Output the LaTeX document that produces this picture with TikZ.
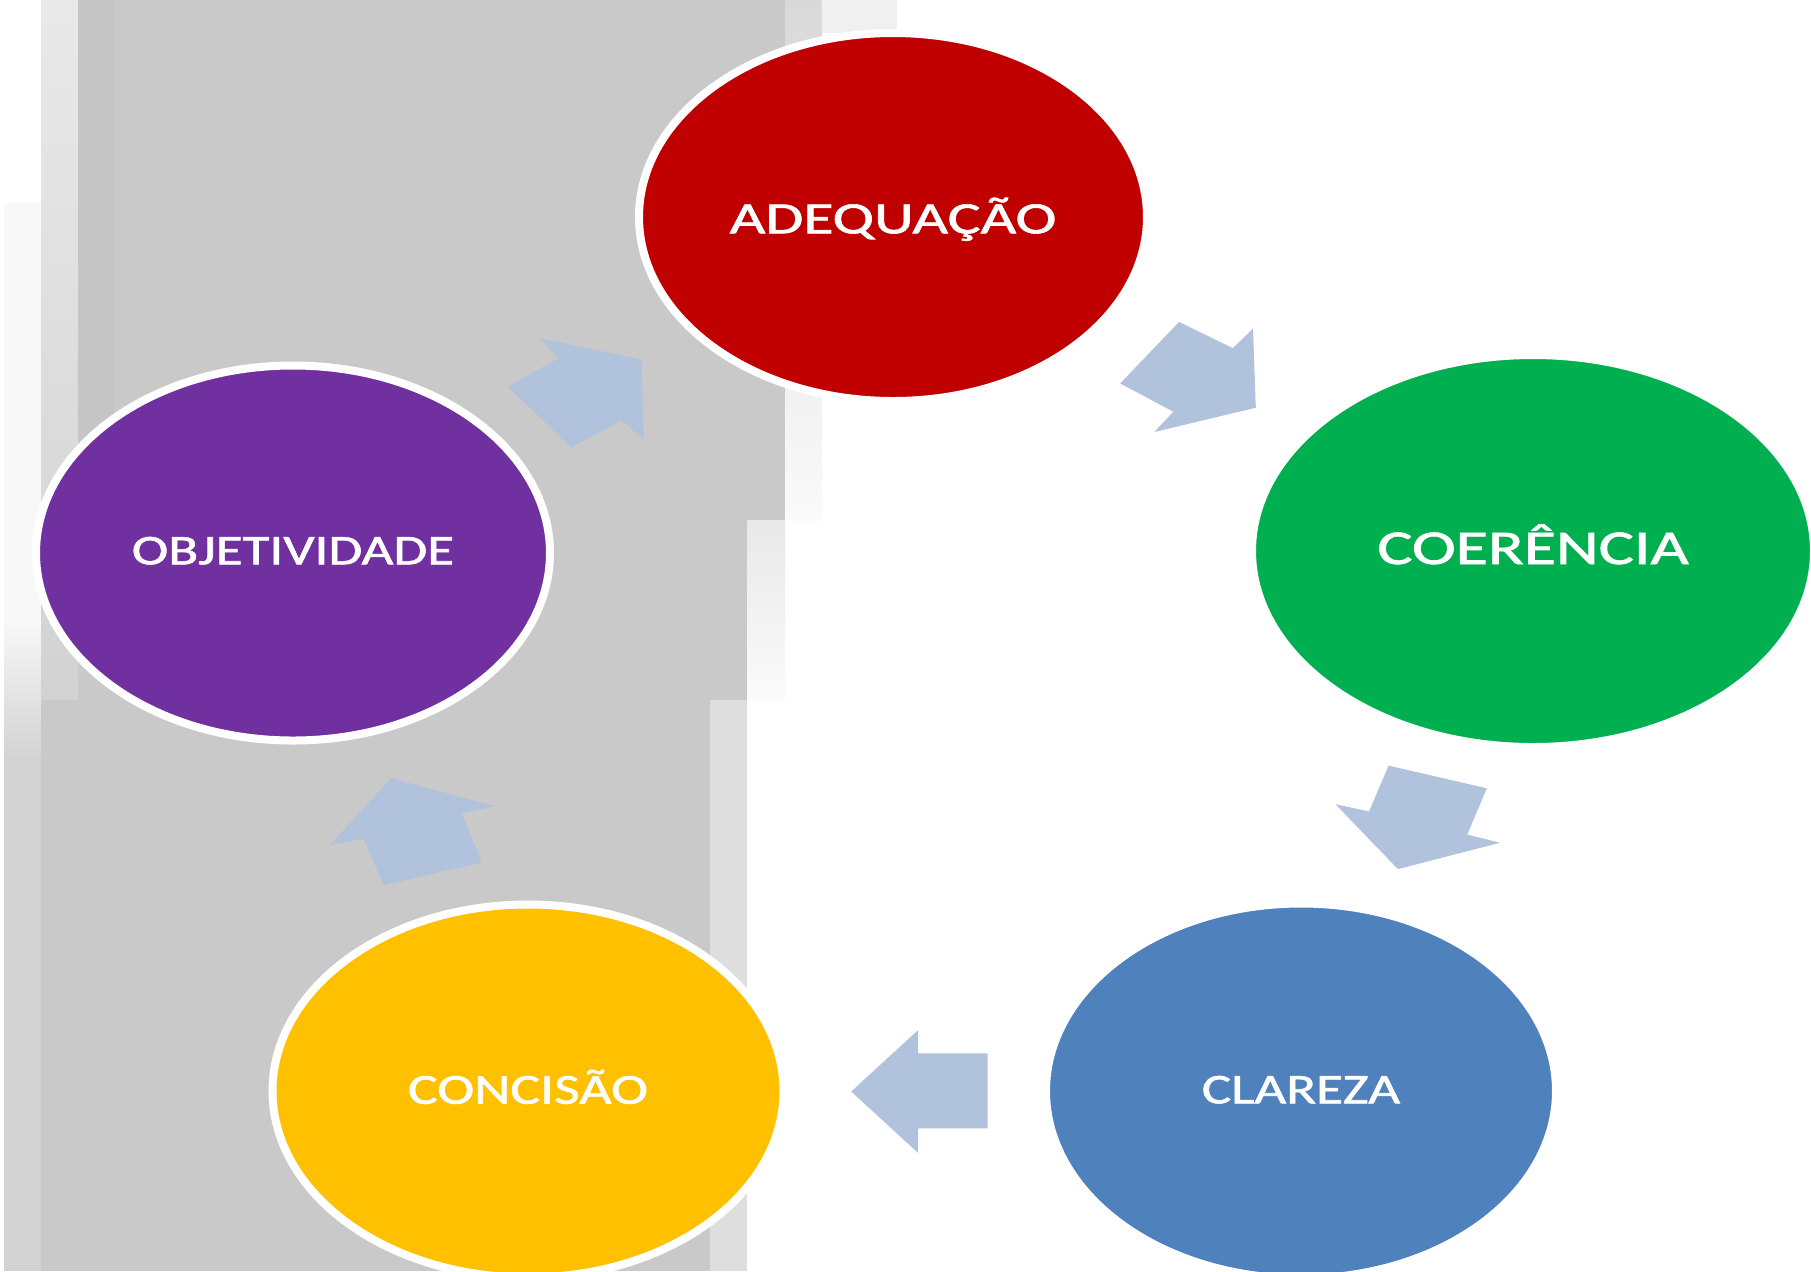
\documentclass[tikz,border=0pt]{standalone}
\usepackage{fontspec}
\newfontfamily\lblfont[FakeBold=1.3]{Carlito}
\usetikzlibrary{shapes.geometric}
\definecolor{bggray}{RGB}{201,201,201}
\definecolor{bgdark}{RGB}{197,197,197}
\definecolor{bglight}{RGB}{248,248,248}
\definecolor{bgleft}{RGB}{210,210,210}
\definecolor{bgedge}{RGB}{222,222,222}
\definecolor{adered}{RGB}{192,0,0}
\definecolor{coegreen}{RGB}{0,176,80}
\definecolor{clablue}{RGB}{79,129,189}
\definecolor{conyellow}{RGB}{255,192,0}
\definecolor{objpurple}{RGB}{112,48,160}
\definecolor{arrowblue}{RGB}{177,194,220}
\tikzset{
  bubble/.style={ellipse, draw=white, line width=0.8mm, inner sep=0pt, text=white},
  cyclearrow/.style={fill=arrowblue, draw=none},
}
\newcommand{\lbl}[3]{{\lblfont\fontsize{#1}{#1}\selectfont\resizebox{#2}{\height}{#3}}}
\begin{document}
\begin{tikzpicture}[x=0.1mm,y=-0.1mm]
\useasboundingbox (0,0) rectangle (1811,1271);
\clip (0,0) rectangle (1811,1271);
\fill[white] (0,0) rectangle (1811,1271);
% blurred grey background
\fill[bglight] (4,203) rectangle (41,1271);
\fill[top color=bglight, bottom color=bgleft] (4,620) rectangle (41,760);
\fill[bgleft] (4,760) rectangle (41,1271);
\fill[top color=gray!17, bottom color=bgleft] (41,0) rectangle (78,700);
\fill[bggray] (78,0) rectangle (785,520);
\fill[bgdark] (78,0) rectangle (115,700);
\fill[top color=gray!30, bottom color=gray!4] (785,0) rectangle (822,520);
\fill[gray!12] (822,0) rectangle (897,33);
\fill[bggray] (78,520) rectangle (747,700);
\fill[top color=gray!18, bottom color=gray!3] (747,520) rectangle (785,700);
\fill[bggray] (41,700) rectangle (710,1271);
\fill[bgedge] (710,700) rectangle (747,1271);
% cycle arrows
\fill[cyclearrow] (539.5,338.1) -- (641.7,359.5) -- (643.4,439.3) -- (621.5,420.2) -- (571.3,447.4) -- (507.8,386.6) -- (558.6,358.3) -- cycle;
\fill[cyclearrow] (1179.1,321.9) -- (1232.8,348.2) -- (1253.0,328.7) -- (1255.8,407.7) -- (1154.3,432.0) -- (1173.3,411.7) -- (1120.2,383.4) -- cycle;
\fill[cyclearrow] (1388.6,765.6) -- (1486.8,788.3) -- (1467.2,834.6) -- (1500.1,842.7) -- (1397.9,869.1) -- (1335.5,804.2) -- (1369.0,811.5) -- cycle;
\fill[cyclearrow] (987.5,1053.4) -- (987.5,1128.4) -- (918.2,1128.4) -- (918.2,1153) -- (851.2,1091.5) -- (918.2,1030) -- (918.2,1053.4) -- cycle;
\fill[cyclearrow] (391.2,778.2) -- (494.5,806.2) -- (461.6,813.5) -- (481.8,862.2) -- (383.7,885.3) -- (363.5,838.7) -- (330.1,845.1) -- cycle;
% bubbles
\node[bubble, fill=adered, minimum width=50.8mm, minimum height=36.8mm, text height=3.26mm, text depth=0pt] (ade) at (893,217) {\lbl{12.74pt}{32.67mm}{ADEQUAÇÃO}};
\node[bubble, fill=coegreen, minimum width=56.2mm, minimum height=39.2mm, text height=2.6mm, text depth=0pt] (coe) at (1533,551) {\lbl{13.82pt}{31.13mm}{COERÊNCIA}};
\node[bubble, fill=clablue, minimum width=51.0mm, minimum height=37.5mm, text height=2.46mm, text depth=0pt] (cla) at (1301,1091) {\lbl{12.02pt}{19.83mm}{CLAREZA}};
\node[bubble, fill=conyellow, minimum width=51.1mm, minimum height=37.3mm, text height=2.54mm, text depth=0pt] (con) at (528,1091) {\lbl{12.15pt}{24.0mm}{CONCISÃO}};
\node[bubble, fill=objpurple, minimum width=51.4mm, minimum height=37.5mm, text height=2.26mm, text depth=0pt] (obj) at (293,553) {\lbl{12.02pt}{32.23mm}{OBJETIVIDADE}};
\end{tikzpicture}
\end{document}
